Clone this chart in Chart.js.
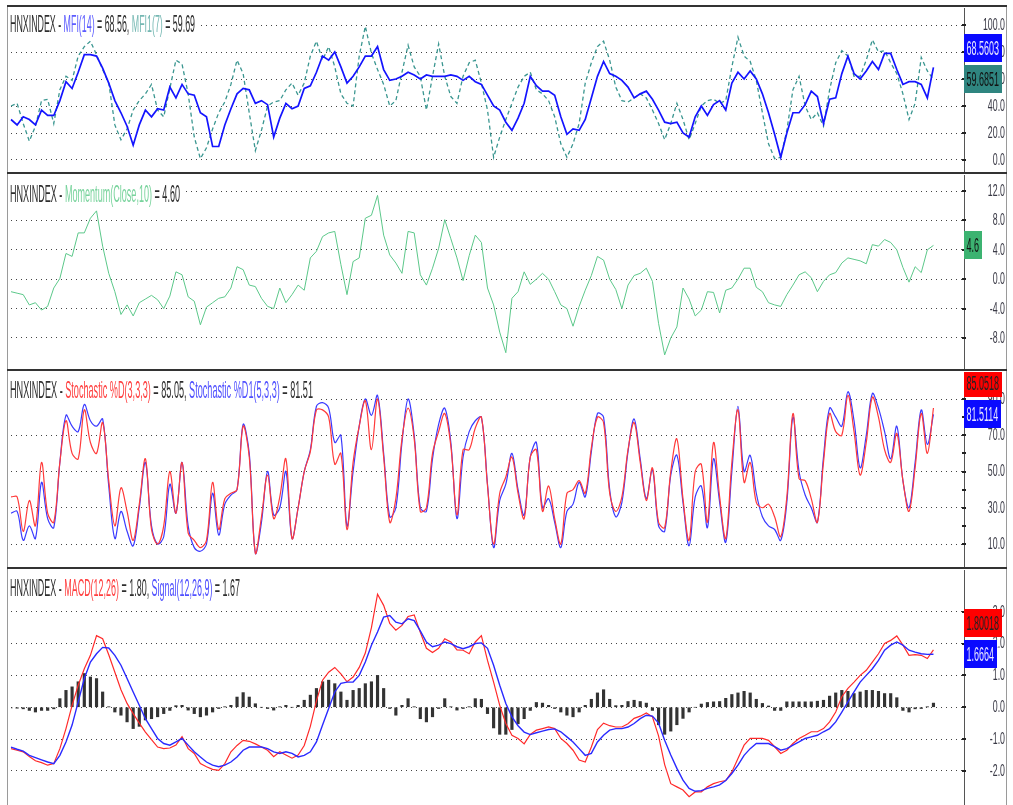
<!DOCTYPE html>
<html><head><meta charset="utf-8">
<script src="https://cdn.jsdelivr.net/npm/chart.js@4.4.1/dist/chart.umd.min.js"></script>
<style>
html,body{margin:0;padding:0;background:#fff;}
body{width:1013px;height:805px;overflow:hidden;position:relative;}
.pane{position:absolute;left:8px;width:999px;}
.hl{position:absolute;left:7px;width:1000px;height:2px;background:#333;}
.vl{position:absolute;top:5px;height:800px;width:1px;background:#9a9a9a;}
</style></head><body>
<div class="vl" style="left:7px"></div>
<div class="vl" style="left:1006px"></div>
<div class="hl" style="top:5px"></div>
<div class="hl" style="top:172px"></div>
<div class="hl" style="top:369px"></div>
<div class="hl" style="top:567px"></div>
<div class="pane" style="top:8px;height:164px"><canvas id="c1"></canvas></div>
<div class="pane" style="top:175px;height:194px"><canvas id="c2"></canvas></div>
<div class="pane" style="top:372px;height:195px"><canvas id="c3"></canvas></div>
<div class="pane" style="top:570px;height:235px"><canvas id="c4"></canvas></div>
<script>
// ---- data (one value per session) ----
const mfi14 = [
30,26,32,30,26,37,33,33,44,58,
53,65,78,78,77,68,57,44,35,25,
11,26,37,32,38,37,54,46,56,49,
48,35,32,10,10,26,38,49,53,52,
42,44,41,17,31,42,38,40,53,55,
65,77,74,80,69,57,62,69,77,77,
84,67,59,60,62,65,63,60,63,62,
62,62,63,62,59,62,58,56,48,40,
37,28,22,31,42,62,55,51,51,48,
32,19,23,22,30,46,62,73,64,62,
59,54,46,49,51,45,37,28,27,28,
20,17,32,40,33,41,44,37,57,65,
60,66,60,49,35,19,2,20,35,35,
41,51,47,27,45,46,64,77,64,60,
66,73,67,79,79,67,56,58,58,56,
46,68.5603];
const mfi7 = [
40,42,27,14,25,44,45,27,52,62,
59,77,84,88,78,67,57,26,15,23,
37,44,49,56,37,32,53,74,71,49,
17,1,9,23,35,43,56,74,64,35,
7,22,40,43,44,52,57,48,57,77,
88,74,84,69,49,42,40,77,99,79,
67,56,40,44,65,85,69,62,37,62,
86,62,47,42,62,72,74,57,37,2,
17,30,42,54,62,65,52,49,44,32,
12,2,12,27,57,72,84,88,74,54,
44,43,46,49,46,37,27,15,27,42,
30,15,27,40,44,45,42,44,69,91,
77,73,59,35,12,1,2,22,52,62,
40,30,35,25,52,72,81,77,62,62,
74,89,80,81,72,64,49,30,42,76,
66,59.6851];
const momentum = [
-1.7,-1.9,-2.1,-3.5,-3.2,-4.2,-3.7,-1.2,0.1,3.5,
3.1,6.3,6.3,8.3,9.3,4.5,0.8,-1.7,-4.8,-3.5,
-5.0,-3.2,-2.7,-2.2,-2.8,-4.0,-2.3,1.0,0.6,-2.4,
-3.0,-6.2,-3.8,-3.2,-2.6,-2.4,-1.2,1.7,1.3,-0.8,
-1.0,-2.6,-3.7,-4.0,-1.2,-3.2,-2.1,-0.8,-1.5,2.9,
3.8,5.8,6.3,6.5,2.0,-2.1,2.4,2.9,8.3,8.7,
11.4,6.0,3.3,2.2,0.8,6.5,6.3,0.6,-0.8,1.5,
4.2,8.1,5.5,2.9,-0.2,3.2,6.0,5.0,-1.2,-3.5,
-7.2,-10.0,-2.6,-1.7,1.0,-0.7,0.0,0.8,0.0,-1.7,
-3.5,-4.0,-6.4,-3.7,-1.5,0.5,3.1,2.6,0.0,-1.4,
-4.0,-0.8,0.5,0.8,1.5,-0.3,-6.0,-10.3,-8.0,-6.5,
-1.2,-2.7,-5.0,-4.2,-1.7,-1.8,-4.6,-1.5,-1.2,0.0,
1.5,1.5,-1.1,-1.7,-3.2,-3.5,-3.7,-2.1,-0.8,0.6,
1.0,0.2,-1.7,-0.3,0.6,0.9,2.2,2.9,2.7,2.5,
2.1,4.7,4.5,5.4,5.0,4.0,1.6,-0.4,1.7,0.9,
4.0,4.6];
const stochD = [
36,36,17,34,20,55,27,22,55,78,
60,57,84,66,60,77,45,20,41,28,
12,32,57,18,10,20,50,27,55,16,
12,8,12,44,18,35,38,40,75,58,
5,25,48,24,36,57,13,30,50,61,
84,84,80,54,60,18,55,75,89,62,
90,58,22,35,68,85,68,28,30,60,
72,82,64,26,62,62,74,80,42,10,
38,47,58,38,24,58,62,28,42,24,
10,38,40,45,38,63,80,77,38,28,
36,62,77,55,34,52,22,19,50,68,
35,12,50,54,22,66,36,13,55,84,
44,55,33,30,32,25,14,36,82,46,
45,35,22,55,82,72,70,92,72,48,
66,91,80,62,55,71,45,28,52,82,
60,85.0518];
const stochD1 = [
27,28,12,20,13,44,24,19,55,81,
75,72,87,78,75,79,42,13,28,17,
9,30,55,20,10,14,43,27,55,20,
8,6,10,38,15,32,37,40,76,60,
5,22,50,26,30,50,13,30,50,62,
86,88,85,66,70,20,50,75,90,81,
92,60,25,30,66,90,70,30,28,57,
76,85,66,24,58,72,78,80,43,8,
34,43,60,40,26,58,66,30,35,22,
8,28,32,44,36,61,82,80,40,25,
33,61,79,57,35,51,20,17,48,59,
33,9,36,42,19,57,33,11,50,86,
50,59,38,25,20,18,12,33,80,50,
37,30,22,58,85,80,75,94,78,52,
70,93,85,72,57,75,45,30,55,84,
65,81.5114];
const macd = [
-1.30,-1.35,-1.40,-1.55,-1.68,-1.74,-1.82,-1.77,-1.30,-0.67,
0.06,0.69,1.21,1.63,2.25,2.15,1.65,1.10,0.55,0.12,
-0.20,-0.50,-0.78,-1.02,-1.25,-1.30,-1.28,-1.19,-0.92,-1.30,
-1.45,-1.77,-1.87,-1.95,-1.98,-1.77,-1.40,-1.20,-1.04,-1.07,
-1.15,-1.25,-1.35,-1.55,-1.40,-1.50,-1.60,-1.50,-1.20,-0.60,
0.20,0.85,1.10,1.25,1.05,0.80,0.95,1.25,1.70,2.50,
3.55,3.20,2.63,2.42,2.57,2.85,2.90,2.35,1.85,1.72,
1.85,2.15,2.05,1.80,1.79,1.68,2.05,2.25,1.47,0.79,
0.06,-0.51,-0.88,-0.98,-1.15,-0.85,-0.72,-0.67,-0.62,-0.67,
-0.98,-1.14,-1.35,-1.66,-1.72,-1.25,-0.70,-0.50,-0.58,-0.62,
-0.62,-0.52,-0.35,-0.28,-0.18,-0.30,-0.90,-1.80,-2.40,-2.50,
-2.60,-2.81,-2.66,-2.66,-2.50,-2.40,-2.34,-2.30,-2.03,-1.61,
-1.19,-0.98,-0.98,-0.98,-1.04,-1.24,-1.45,-1.35,-1.14,-0.98,
-0.88,-0.77,-0.77,-0.67,-0.46,-0.15,0.33,0.59,0.79,1.00,
1.16,1.42,1.68,2.00,2.10,2.24,1.95,1.63,1.65,1.63,
1.53,1.80018];
const signal = [
-1.25,-1.32,-1.38,-1.51,-1.58,-1.65,-1.72,-1.77,-1.51,-1.09,
-0.56,0.17,0.90,1.42,1.68,1.88,1.86,1.63,1.32,0.90,
0.48,0.06,-0.36,-0.67,-0.98,-1.14,-1.19,-1.09,-0.98,-1.19,
-1.40,-1.56,-1.72,-1.82,-1.87,-1.82,-1.72,-1.56,-1.35,-1.25,
-1.25,-1.25,-1.30,-1.40,-1.45,-1.40,-1.45,-1.56,-1.51,-1.40,
-1.09,-0.56,-0.04,0.48,0.75,0.79,0.79,1.00,1.42,1.95,
2.36,2.83,2.88,2.67,2.62,2.78,2.72,2.40,2.05,1.90,
1.95,2.05,2.00,1.90,1.84,1.90,2.00,2.02,1.85,1.32,
0.69,0.12,-0.30,-0.58,-0.78,-0.86,-0.80,-0.75,-0.70,-0.68,
-0.77,-0.93,-1.09,-1.30,-1.51,-1.45,-1.09,-0.88,-0.72,-0.67,
-0.67,-0.62,-0.51,-0.36,-0.25,-0.28,-0.50,-1.04,-1.50,-1.92,
-2.29,-2.55,-2.64,-2.62,-2.55,-2.50,-2.44,-2.30,-2.08,-1.82,
-1.51,-1.30,-1.14,-1.14,-1.14,-1.24,-1.35,-1.30,-1.19,-1.09,
-0.98,-0.93,-0.88,-0.77,-0.67,-0.46,-0.15,0.17,0.48,0.79,
1.00,1.21,1.47,1.79,1.95,2.05,1.95,1.79,1.73,1.68,
1.66,1.6664];
const histogram = [
-0.02,-0.03,-0.05,-0.10,-0.15,-0.10,-0.10,-0.05,0.27,0.53,
0.64,0.80,1.06,0.95,0.90,0.48,0.01,-0.15,-0.25,-0.46,
-0.67,-0.60,-0.40,-0.36,-0.30,-0.20,-0.10,0.05,0.06,-0.09,
-0.20,-0.30,-0.25,-0.15,-0.04,0.01,0.06,0.32,0.46,0.32,
0.11,0.00,-0.04,-0.09,0.01,0.06,0.00,0.06,0.22,0.38,
0.59,0.80,0.85,0.74,0.48,0.22,0.53,0.59,0.74,0.80,
1.00,0.59,-0.04,-0.25,0.06,0.27,0.01,-0.36,-0.46,-0.30,
-0.04,0.27,0.01,-0.09,-0.04,0.01,0.27,0.25,-0.20,-0.65,
-0.85,-0.85,-0.70,-0.52,-0.36,-0.10,0.15,0.13,0.06,-0.04,
-0.15,-0.25,-0.30,-0.15,0.06,0.25,0.45,0.55,0.25,0.05,
0.06,0.18,0.22,0.18,0.13,-0.10,-0.55,-0.85,-0.75,-0.55,
-0.35,-0.15,0.00,0.10,0.15,0.17,0.18,0.28,0.40,0.45,
0.50,0.45,0.25,0.12,0.04,-0.10,-0.10,0.17,0.17,0.17,
0.17,0.17,0.19,0.22,0.35,0.45,0.53,0.50,0.43,0.48,
0.53,0.53,0.50,0.43,0.43,0.30,-0.10,-0.15,-0.05,-0.04,
0.01,0.13];
// sessions (categories); a few empty sessions at the right leave the usual right margin
const emptySessions = 5;
const sessions = Array.from({length: mfi14.length + emptySessions}, (_, i) => 'S' + (i + 1));
// tick labels
const mfiTicks = [0, 20, 40, 60, 80, 100];
const momTicks = [-8, -4, 0, 4, 8, 12];
const stoTicks = [10, 20, 30, 40, 50, 60, 70, 80, 90];
const stoLabels = [10, 30, 50, 70, 90];
const macdTicks = [-2, -1, 0, 1, 2, 3];

const last = a => a[a.length - 1];
const FONT = '"Liberation Sans", Arial, sans-serif';
const TXT = '#2e2e2e';

function drawTitle(ctx, segs, x, base, targetW) {
  ctx.save();
  ctx.font = '24px ' + FONT;
  let total = 0; segs.forEach(s => total += ctx.measureText(s[0]).width);
  const sx = targetW / total;
  ctx.fillStyle = '#fff';
  ctx.fillRect(x - 1, base - 19, targetW + 6, 25);
  ctx.translate(x, base); ctx.scale(sx, 1);
  ctx.textBaseline = 'alphabetic';
  let cx = 0;
  segs.forEach(([t, c]) => { ctx.fillStyle = c; ctx.fillText(t, cx, 0); cx += ctx.measureText(t).width; });
  ctx.restore();
}

function drawBadge(ctx, text, yc, bg, fg, x0) {
  const H = 28, SX = 0.45;
  ctx.save();
  ctx.font = '20px ' + FONT;
  const w = ctx.measureText(text).width * SX;
  ctx.fillStyle = bg;
  ctx.fillRect(x0, Math.round(yc - H / 2), Math.round(w + 5), H);
  ctx.translate(x0 + 2.5, yc + 1); ctx.scale(SX, 1);
  ctx.fillStyle = fg; ctx.textBaseline = 'middle'; ctx.textAlign = 'left';
  ctx.fillText(text, 0, 0);
  ctx.restore();
}

function panelPlugin(cfg) {
  return {
    id: 'panel' + cfg.id,
    beforeDatasetsDraw(chart) {
      drawTitle(chart.ctx, cfg.title, 2, cfg.titleBase, cfg.titleW);
    },
    afterDraw(chart) {
      const ctx = chart.ctx, ys = chart.scales.y, right = chart.chartArea.right;
      ctx.save();
      ctx.fillStyle = '#222';
      cfg.ticks.forEach(v => { const py = Math.round(ys.getPixelForValue(v)); ctx.fillRect(right - 2, py - 1, 4, 2); });
      ctx.font = '16px ' + FONT; ctx.fillStyle = '#3a3a46';
      ctx.textAlign = 'right'; ctx.textBaseline = 'middle';
      cfg.labels.forEach(v => {
        const py = ys.getPixelForValue(v);
        ctx.save(); ctx.translate(chart.width - 2, py + 0.5); ctx.scale(0.55, 1);
        ctx.fillText(v.toFixed(1), 0, 0); ctx.restore();
      });
      ctx.restore();
      // value badges: the last badge sits at its value, the other is pushed clear of it
      const b = cfg.badges;
      const anchor = b[b.length - 1];
      const ya = ys.getPixelForValue(anchor.v);
      if (b.length === 2) {
        let y0 = ys.getPixelForValue(b[0].v);
        if (Math.abs(y0 - ya) < 31) y0 = (b[0].v >= anchor.v) ? ya - 31 : ya + 31;
        drawBadge(ctx, String(b[0].v), y0, b[0].bg, b[0].fg, right);
      }
      drawBadge(ctx, String(anchor.v), ya, anchor.bg, anchor.fg, right);
    }
  };
}

function baseOptions(cfg) {
  return {
    responsive: true, maintainAspectRatio: false, animation: false,
    layout: { padding: { left: 3, right: 0, top: 0, bottom: 0 }, autoPadding: false },
    plugins: { legend: { display: false }, tooltip: { enabled: false } },
    elements: { point: { radius: 0 }, line: { tension: 0 } },
    scales: {
      x: { display: false, offset: false, grid: { offset: false } },
      y: {
        position: 'right', min: cfg.min, max: cfg.max,
        afterBuildTicks: s => { s.ticks = cfg.ticks.map(v => ({ value: v })); },
        afterFit: s => { s.width = 43; },
        ticks: { display: false },
        grid: { drawTicks: false, lineWidth: 1,
          color: c => (c.tick && cfg.gridOn(c.tick.value)) ? '#444' : 'rgba(0,0,0,0)' },
        border: { display: true, color: '#555', width: 1, dash: [1, 4] }
      }
    }
  };
}

function makeChart(id, cfg, datasets) {
  return new Chart(document.getElementById(id), {
    type: 'line',
    data: { labels: sessions, datasets },
    options: baseOptions(cfg),
    plugins: [panelPlugin(cfg)]
  });
}

// Panel 1: MFI
makeChart('c1', {
  id: 1, min: -8.89, max: 112.6, ticks: mfiTicks, labels: mfiTicks, gridOn: () => true,
  titleBase: 24, titleW: 185,
  title: [['HNXINDEX - ', TXT], ['MFI(14)', '#5b5bff'], [' = ' + last(mfi14).toFixed(2) + ', ', TXT],
          ['MFI1(7)', '#76b8b3'], [' = ' + last(mfi7).toFixed(2), TXT]],
  badges: [{ v: last(mfi14), bg: '#0a0aff', fg: '#e8e8ff' }, { v: last(mfi7), bg: '#2f8580', fg: '#111' }]
}, [
  { data: mfi14, borderColor: '#1414ff', borderWidth: 1.7, order: 1 },
  { data: mfi7, borderColor: '#3a9690', borderWidth: 1.3, borderDash: [4, 3], order: 2 }
]);

// Panel 2: Momentum
makeChart('c2', {
  id: 2, min: -12.22, max: 14.18, ticks: momTicks, labels: momTicks, gridOn: () => true,
  titleBase: 26.5, titleW: 170,
  title: [['HNXINDEX - ', TXT], ['Momentum(Close,10)', '#78d39c'], [' = ' + last(momentum).toFixed(2), TXT]],
  badges: [{ v: last(momentum), bg: '#3cb371', fg: '#111' }]
}, [
  { data: momentum, borderColor: '#5cc88a', borderWidth: 1 }
]);

// Panel 3: Stochastic
makeChart('c3', {
  id: 3, min: -2.69, max: 104.9, ticks: stoTicks, labels: stoLabels, gridOn: v => stoLabels.includes(v),
  titleBase: 26, titleW: 303,
  title: [['HNXINDEX - ', TXT], ['Stochastic %D(3,3,3)', '#ff4040'], [' = ' + last(stochD).toFixed(2) + ', ', TXT],
          ['Stochastic %D1(5,3,3)', '#5050ff'], [' = ' + last(stochD1).toFixed(2), TXT]],
  badges: [{ v: last(stochD), bg: '#ff0000', fg: '#222' }, { v: last(stochD1), bg: '#0a0aff', fg: '#e8e8ff' }]
}, [
  { data: stochD, borderColor: '#ff3a3a', borderWidth: 1.2, tension: 0.35, order: 1 },
  { data: stochD1, borderColor: '#3a3aff', borderWidth: 1.2, tension: 0.35, order: 2 }
]);

// Panel 4: MACD
makeChart('c4', {
  id: 4, min: -3.07, max: 4.31, ticks: macdTicks, labels: macdTicks, gridOn: () => true,
  titleBase: 26, titleW: 230,
  title: [['HNXINDEX - ', TXT], ['MACD(12,26)', '#ff4040'], [' = ' + last(macd).toFixed(2) + ', ', TXT],
          ['Signal(12,26,9)', '#5050ff'], [' = ' + last(signal).toFixed(2), TXT]],
  badges: [{ v: last(macd), bg: '#ff0000', fg: '#222' }, { v: last(signal), bg: '#0a0aff', fg: '#e8e8ff' }]
}, [
  { type: 'bar', data: histogram, backgroundColor: '#333', barThickness: 2.5, order: 3 },
  { data: macd, borderColor: '#ff2a2a', borderWidth: 1.2, order: 2 },
  { data: signal, borderColor: '#2a2aff', borderWidth: 1.4, order: 1 }
]);
</script>
</body></html>
